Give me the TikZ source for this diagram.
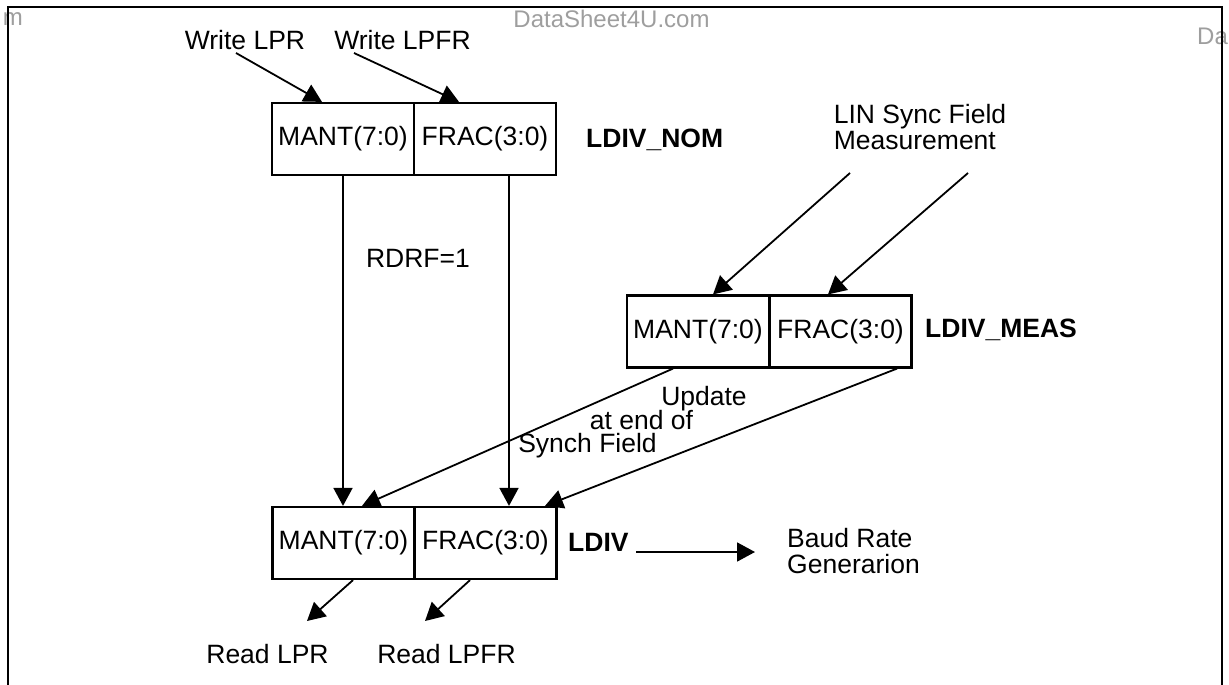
\documentclass[tikz,border=0pt]{standalone}
\usepackage{fontspec}
\setmainfont{Liberation Sans}
\usetikzlibrary{arrows.meta,calc}
\begin{document}
\begin{tikzpicture}[x=1pt,y=-1pt,
  every node/.style={font=\fontsize{26.5}{26}\selectfont, inner sep=0pt},
  cell/.style={draw, line width=2.2pt, minimum width=142pt, minimum height=72pt},
  lbl/.style={font=\fontsize{26.5}{26}\selectfont\bfseries},
  arr/.style={line width=1.8pt, -{Triangle[length=18pt,width=19pt]}},
  wm/.style={text=black!38, font=\fontsize{24}{26}\selectfont}]
\useasboundingbox (0,0) rectangle (1229,685);
\clip (0,0) rectangle (1229,685);

% watermarks
\node[wm, anchor=base east] (ws0) at (23,26) {m};
\node[wm, anchor=base] (ws1) at (611.5,28) {DataSheet4U.com};
\node[wm, anchor=base west] (ws2) at (1197,45) {Da};

% frame
\draw[line width=2pt] (8,685) -- (8,7) -- (1222,7) -- (1222,685);

% registers
\node[cell] (nm) at (343,139) {MANT(7:0)};
\node[cell] (nf) at (485,139) {FRAC(3:0)};
\node[lbl, anchor=west] (nom) at (586,140) {LDIV\_NOM};

\node[cell] (mm) at (698,331.5) {MANT(7:0)};
\node[cell] (mf) at (840.5,331.5) {FRAC(3:0)};
\node[lbl, anchor=west] (meas) at (925,330) {LDIV\_MEAS};

\node[cell] (lm) at (343.5,543) {MANT(7:0)};
\node[cell] (lf) at (485.5,543) {FRAC(3:0)};
\node[lbl, anchor=west] (ldiv) at (568,542) {LDIV};

% labels
\node[anchor=base] (wlpr) at (245,50) {Write LPR};
\node[anchor=base] (wlpfr) at (402.5,50) {Write LPFR};
\node[align=left] (lin) at (920,127) {LIN Sync Field\\Measurement};
\node[anchor=base] (rdrf) at (418,267) {RDRF=1};
\node[anchor=base] (up1) at (704,405) {Update};
\node[anchor=base] (up2) at (641.5,429) {at end of};
\node[anchor=base] (up3) at (587.5,452) {Synch Field};
\node[align=left, anchor=west] (baud) at (787,551.5) {Baud Rate\\Generarion};
\node[anchor=base] (rlpr) at (267.5,663) {Read LPR};
\node[anchor=base] (rlpfr) at (446.5,663) {Read LPFR};

% connector ends
\coordinate (c1) at (236,53);
\coordinate (c2) at (354,53);
\coordinate (c3) at (850,173);
\coordinate (c4) at (968,173);
\coordinate (c5) at (636,552);
\coordinate (c6) at (755,552);
\coordinate (c7) at (307,621);
\coordinate (c8) at (425,621);

% connectors
\draw[arr] (c1) -- ([xshift=-21pt]nm.north);
\draw[arr] (c2) -- ([xshift=-26pt]nf.north);
\draw[arr] (nm.south) -- (nm.south |- lm.north);
\draw[arr] ([xshift=24pt]nf.south) -- ([xshift=24pt]nf.south |- lf.north);
\draw[arr] (c3) -- ([xshift=15pt]mm.north);
\draw[arr] (c4) -- ([xshift=-12.5pt]mf.north);
\draw[arr] ([xshift=-25pt]mm.south) -- ([xshift=18.5pt]lm.north);
\draw[arr] ([xshift=56.5pt]mf.south) -- ([xshift=59.5pt]lf.north);
\draw[arr] (c5) -- (c6);
\draw[arr] ([xshift=9.5pt]lm.south) -- (c7);
\draw[arr] ([xshift=-15.5pt]lf.south) -- (c8);
\end{tikzpicture}
\end{document}
